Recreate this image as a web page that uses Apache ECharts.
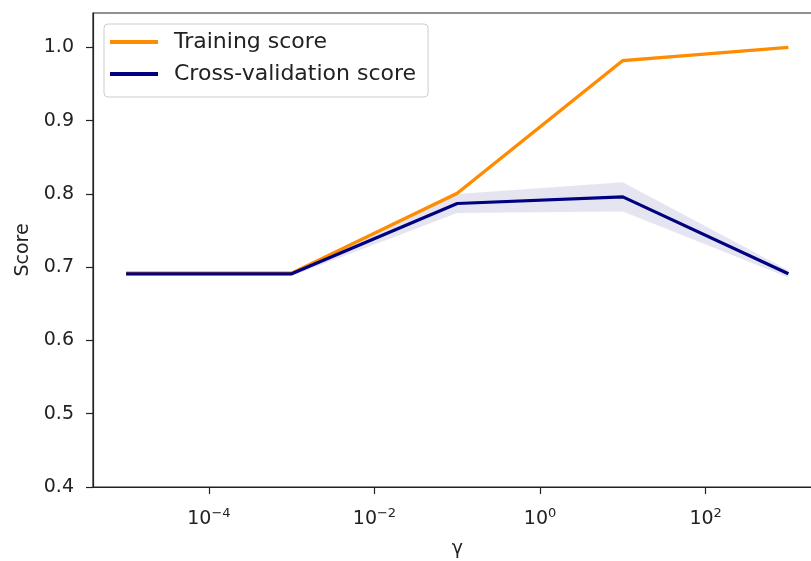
<!DOCTYPE html>
<html>
<head>
<meta charset="utf-8">
<script src="https://cdn.jsdelivr.net/npm/echarts@6/dist/echarts.min.js"></script>
<style>
  html, body { margin: 0; padding: 0; background: #fff; }
  #chart { width: 811px; height: 561px; }
</style>
</head>
<body>
<div id="chart"></div>
<script>
const chart = echarts.init(document.getElementById('chart'));

// gamma 取值与得分
const gammas = [1e-5, 1e-3, 1e-1, 1e1, 1e3];
const trainMean = [0.692, 0.692, 0.801, 0.982, 1.0];
const trainStd = [0.002, 0.002, 0.003, 0.003, 0.0];
const cvMean = [0.691, 0.691, 0.787, 0.796, 0.691];
const cvStd = [0.003, 0.003, 0.013, 0.02, 0.005];
// 坐标轴刻度
const xTickExp = [-4, -2, 0, 2];
const yTicks = [0.4, 0.5, 0.6, 0.7, 0.8, 0.9, 1.0];

const FONT = 'DejaVu Sans';
const lx = gammas.map(g => Math.log10(g));

function pairs(vals) {
  return lx.map((x, i) => [x, vals[i]]);
}

// 标准差色带：用自定义系列画一个多边形
function band(name, mean, std, fill, z) {
  const lo = mean.map((m, i) => m - std[i]);
  const hi = mean.map((m, i) => m + std[i]);
  return {
    name: name, type: 'custom', silent: true, z: z,
    data: lx.map((x, i) => [x, lo[i], hi[i]]),
    encode: { x: 0, y: [1, 2] },
    renderItem: function (params, api) {
      if (params.dataIndex !== 0) return;
      const pts = [];
      lx.forEach((x, i) => pts.push(api.coord([x, hi[i]])));
      for (let i = lx.length - 1; i >= 0; i--) pts.push(api.coord([lx[i], lo[i]]));
      return {
        type: 'polygon',
        shape: { points: pts },
        style: { fill: fill }
      };
    }
  };
}

const option = {
  animation: false,
  backgroundColor: '#fff',
  textStyle: { fontFamily: FONT },
  grid: {
    left: 93, top: 13, right: -10.5, bottom: 74,
    outerBoundsMode: 'none',
    containLabel: false,
    show: true, borderColor: '#222', borderWidth: 1.2
  },
  legend: {
    left: 104, top: 24,
    orient: 'vertical',
    data: [
      { name: 'Training score', icon: 'rect' },
      { name: 'Cross-validation score', icon: 'rect' }
    ],
    itemWidth: 48, itemHeight: 4, itemGap: 10,
    padding: [7, 12, 12, 6],
    borderColor: '#cccccc', borderWidth: 1, borderRadius: 4,
    backgroundColor: 'rgba(255,255,255,0.8)',
    textStyle: { fontFamily: FONT, fontSize: 22, color: '#222', height: 26, padding: [0, 0, 0, 11] }
  },
  xAxis: {
    type: 'value',
    min: -5.4, max: 3.4,
    name: 'γ', nameLocation: 'middle', nameGap: 53,
    nameTextStyle: { fontFamily: FONT, fontSize: 19, color: '#222' },
    splitLine: { show: false },
    axisLine: { onZero: false, lineStyle: { color: '#222', width: 1.2 } },
    axisTick: { length: 7, lineStyle: { color: '#222', width: 1.2 }, customValues: xTickExp },
    axisLabel: {
      margin: 20,
      customValues: xTickExp,
      formatter: v => {
        const n = Math.round(v);
        return '{b|10}{s|' + (n < 0 ? '\u2212' + (-n) : n) + '}';
      },
      rich: {
        b: { fontFamily: FONT, fontSize: 19, color: '#222' },
        s: { fontFamily: FONT, fontSize: 13, color: '#222', padding: [0, 0, 12, 0] }
      }
    }
  },
  yAxis: {
    type: 'value',
    min: 0.4, max: 1.047,
    name: 'Score', nameLocation: 'middle', nameGap: 60,
    nameTextStyle: { fontFamily: FONT, fontSize: 19, color: '#222' },
    splitLine: { show: false },
    axisLine: { show: true, onZero: false, lineStyle: { color: '#222', width: 1.2 } },
    axisTick: { show: true, length: 7, lineStyle: { color: '#222', width: 1.2 }, customValues: yTicks },
    axisLabel: {
      margin: 19, fontFamily: FONT, fontSize: 19, color: '#222',
      customValues: yTicks,
      formatter: v => v.toFixed(1)
    }
  },
  series: [
    band('trainBand', trainMean, trainStd, 'rgba(255,140,0,0.2)', 1),
    band('cvBand', cvMean, cvStd, 'rgba(0,0,128,0.1)', 2),
    {
      name: 'Training score', type: 'line', symbol: 'none',
      color: '#ff8c00',
      lineStyle: { color: '#ff8c00', width: 3.2 },
      data: pairs(trainMean), z: 3
    },
    {
      name: 'Cross-validation score', type: 'line', symbol: 'none',
      color: '#000080',
      lineStyle: { color: '#000080', width: 3.2 },
      data: pairs(cvMean), z: 4
    }
  ]
};
chart.setOption(option);
</script>
</body>
</html>
